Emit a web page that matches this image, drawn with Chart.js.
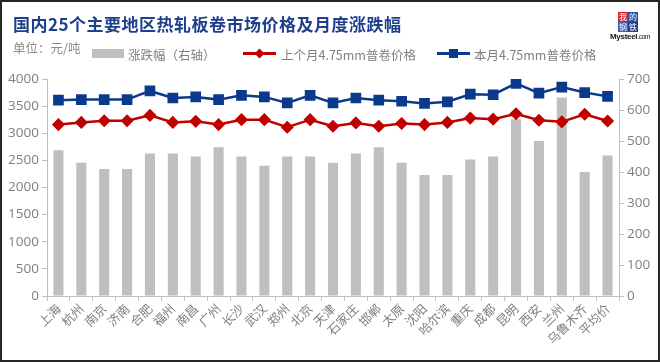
<!DOCTYPE html>
<html>
<head>
<meta charset="utf-8">
<script src="https://cdn.jsdelivr.net/npm/chart.js@4/dist/chart.umd.min.js"></script>
<style>
  html,body{margin:0;padding:0;background:#fff;}
  #wrap{position:relative;width:660px;height:362px;overflow:hidden;background:#fff;}
  #c{position:absolute;left:0;top:0;}
  .frame{position:absolute;left:0;top:0;width:656px;height:358px;border:2px solid #262626;pointer-events:none;}
  .title{position:absolute;left:13px;top:11px;font-family:"Noto Sans CJK SC";font-weight:bold;font-size:17px;color:#1F3F8C;white-space:nowrap;letter-spacing:0.5px;}
  .sub{position:absolute;left:13px;top:38px;font-family:"Noto Sans CJK SC";font-size:12.5px;color:#8C8C8C;white-space:nowrap;}
  .lg{position:absolute;top:45px;font-family:"Noto Sans CJK SC";font-size:12.5px;color:#7F7F7F;white-space:nowrap;}
  .box{position:absolute;left:92px;top:49px;width:32px;height:9px;background:#BFBFBF;}
  .ln{position:absolute;height:3px;width:33px;top:52px;}
  .mk-d{position:absolute;width:7px;height:7px;transform:rotate(45deg);}
  .mk-s{position:absolute;width:9px;height:9px;}
  .logo{position:absolute;left:610px;top:12px;width:36px;height:30px;font-family:"Noto Sans CJK SC";}
</style>
</head>
<body>
<div id="wrap">
  <canvas id="c" width="660" height="362"></canvas>
  <div class="title">国内25个主要地区热轧板卷市场价格及月度涨跌幅</div>
  <div class="sub">单位：元/吨</div>
  <div class="box"></div>
  <div class="lg" style="left:128px;">涨跌幅（右轴）</div>
  <div class="ln" style="left:243px;background:#C00000;"></div>
  <div class="mk-d" style="left:256px;top:50px;background:#C00000;"></div>
  <div class="lg" style="left:281px;">上个月4.75mm普卷价格</div>
  <div class="ln" style="left:437px;background:#0B3A8C;"></div>
  <div class="mk-s" style="left:449px;top:49px;background:#0B3A8C;"></div>
  <div class="lg" style="left:474px;">本月4.75mm普卷价格</div>
  <div class="logo">
    <div style="position:absolute;left:8px;top:0;width:10px;height:10px;background:#D62828;color:#fff;font-size:8px;line-height:10px;text-align:center;">我</div>
    <div style="position:absolute;left:18px;top:0;width:10px;height:10px;background:#2C4FA3;color:#fff;font-size:8px;line-height:10px;text-align:center;">的</div>
    <div style="position:absolute;left:8px;top:10px;width:10px;height:10px;background:#3B5FB8;color:#fff;font-size:8px;line-height:10px;text-align:center;">钢</div>
    <div style="position:absolute;left:18px;top:10px;width:10px;height:10px;background:#1F3F8C;color:#fff;font-size:8px;line-height:10px;text-align:center;">铁</div>
    <div style="position:absolute;left:0;top:20px;font-family:Arial,'Liberation Sans';font-size:8px;font-weight:bold;color:#111;letter-spacing:-0.3px;">Mysteel<span style="font-weight:normal;font-size:6.5px;">.com</span></div>
  </div>
  <div class="frame"></div>
</div>
<script>
const categories = ["上海","杭州","南京","济南","合肥","福州","南昌","广州","长沙","武汉","郑州","北京","天津","石家庄","邯郸","太原","沈阳","哈尔滨","重庆","成都","昆明","西安","兰州","乌鲁木齐","平均价"];
const changeValues = [470,430,410,410,460,460,450,480,450,420,450,450,430,460,480,430,390,390,440,450,570,500,640,400,453];
const lastMonthPrice = [3160,3200,3230,3230,3330,3200,3220,3160,3250,3250,3110,3250,3130,3190,3130,3180,3160,3200,3280,3260,3360,3240,3210,3350,3225];
const thisMonthPrice = [3610,3620,3620,3620,3780,3650,3670,3620,3700,3670,3560,3700,3560,3650,3610,3590,3550,3580,3720,3710,3920,3740,3850,3750,3680];
const leftTicks = [0,500,1000,1500,2000,2500,3000,3500,4000];
const rightTicks = [0,100,200,300,400,500,600,700];

const tickFont = {family:"'Open Sans'", size:13.5};
const tickColor = "#7F7F7F";
const axisColor = "#BFBFBF";

new Chart(document.getElementById('c'), {
  data: {
    labels: categories,
    datasets: [
      {type:'line', label:'本月4.75mm普卷价格', data: thisMonthPrice, yAxisID:'y', borderColor:'#0B3A8C', backgroundColor:'#0B3A8C', borderWidth:2.5, pointStyle:'rect', pointRadius:5.8, pointHoverRadius:5.8, order:0, tension:0},
      {type:'line', label:'上个月4.75mm普卷价格', data: lastMonthPrice, yAxisID:'y', borderColor:'#C00000', backgroundColor:'#C00000', borderWidth:2.5, pointStyle:'rectRot', pointRadius:4.8, pointHoverRadius:4.8, order:1, tension:0},
      {type:'bar', label:'涨跌幅（右轴）', data: changeValues, yAxisID:'y1', backgroundColor:'#BFBFBF', barPercentage:0.44, categoryPercentage:1, order:2}
    ]
  },
  options: {
    responsive:false,
    animation:false,
    layout:{padding:{top:79,left:0,right:0,bottom:0}},
    plugins:{legend:{display:false}, tooltip:{enabled:false}},
    scales:{
      x:{
        offset:true,
        grid:{display:true, offset:true, drawOnChartArea:false, drawTicks:true, tickLength:5, color:axisColor},
        border:{display:true, color:axisColor},
        ticks:{color:tickColor, font:{family:"'Noto Sans CJK SC'", size:12.5}, minRotation:45, maxRotation:45, autoSkip:false, padding:0},
        afterFit(s){ s.height = 66; }
      },
      y:{
        position:'left', min:0, max:4000,
        afterBuildTicks(s){ s.ticks = leftTicks.map(v=>({value:v})); },
        grid:{display:true, drawOnChartArea:false, drawTicks:true, tickLength:5, color:axisColor},
        border:{display:true, color:axisColor},
        ticks:{color:tickColor, font:tickFont, padding:3, callback:(v)=>String(v)},
        afterFit(s){ s.width = 47; }
      },
      y1:{
        position:'right', min:0, max:700,
        afterBuildTicks(s){ s.ticks = rightTicks.map(v=>({value:v})); },
        grid:{display:true, drawOnChartArea:false, drawTicks:true, tickLength:5, color:axisColor},
        border:{display:true, color:axisColor},
        ticks:{color:tickColor, font:tickFont, padding:3, callback:(v)=>String(v)},
        afterFit(s){ s.width = 41; }
      }
    }
  }
});
</script>
</body>
</html>
